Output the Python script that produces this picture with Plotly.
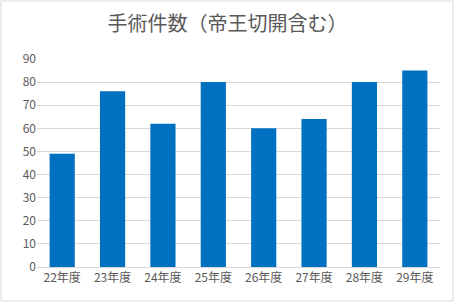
import plotly.graph_objects as go

categories = ["22年度", "23年度", "24年度", "25年度", "26年度", "27年度", "28年度", "29年度"]
values = [49, 76, 62, 80, 60, 64, 80, 85]
y_ticks = [0, 10, 20, 30, 40, 50, 60, 70, 80, 90]

W, H = 455, 303
ml, mr, mt, mb = 37, 15, 59, 36
pw, ph = W - ml - mr, H - mt - mb

fig = go.Figure(go.Bar(x=categories, y=values, marker_color="#0070C0",
                       marker_line_width=0, width=0.5))

fig.update_layout(
    width=W, height=H,
    margin=dict(l=ml, r=mr, t=mt, b=mb),
    paper_bgcolor="white", plot_bgcolor="white",
    font=dict(family="Noto Sans CJK JP", color="#595959", size=12),
    title=dict(text="手術件数（帝王切開含む）", x=0.5, xanchor="center",
               y=1 - 24 / H, yanchor="middle",
               font=dict(size=20, color="#595959", family="Noto Sans CJK JP")),
    showlegend=False,
    bargap=0.5,
)
fig.update_yaxes(range=[0, 90], tickvals=y_ticks, showgrid=True, gridcolor="#D9D9D9",
                 gridwidth=1, zeroline=False, showline=False, ticks="",
                 ticklen=0, tickfont=dict(size=12, color="#595959"))
fig.update_xaxes(showgrid=False, showline=True, linecolor="#D9D9D9", linewidth=1,
                 ticks="", tickfont=dict(size=12, color="#595959"))

fig.add_shape(type="rect", xref="paper", yref="paper",
              x0=(1 - ml) / pw, x1=(W - 2 - ml) / pw,
              y0=(H - mb - (H - 2)) / ph, y1=(H - mb - 1) / ph,
              line=dict(color="#D9D9D9", width=1), fillcolor="rgba(0,0,0,0)")

fig.write_html("out.html")
